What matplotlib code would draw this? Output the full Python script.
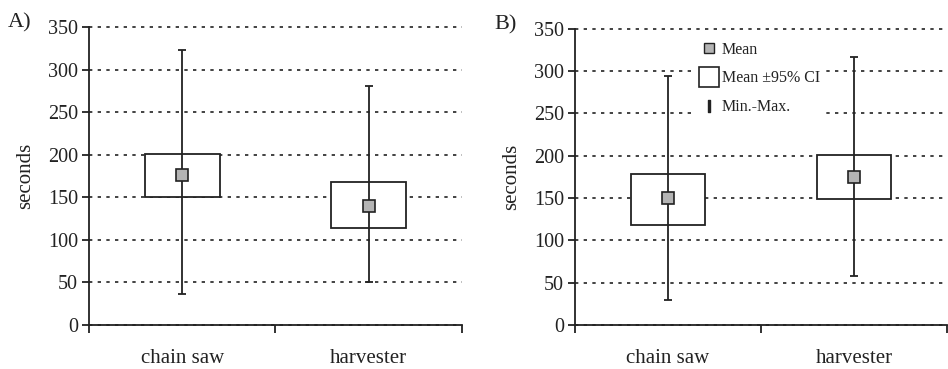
import matplotlib
matplotlib.use("Agg")
import matplotlib.pyplot as plt
from matplotlib.lines import Line2D
import numpy as np

plt.rcParams['font.family'] = ['Liberation Serif', 'DejaVu Serif']

categories = ["chain saw", "harvester"]

# panel A
a_mean = [176, 140]
a_ci_low = [150, 114]
a_ci_high = [201, 168]
a_min = [37, 51]
a_max = [323, 281]

# panel B
b_mean = [150, 175]
b_ci_low = [118, 149]
b_ci_high = [179, 201]
b_min = [30, 58]
b_max = [294, 317]

yticks = [0, 50, 100, 150, 200, 250, 300, 350]


def draw_panel(ax, mean, lo, hi, mn, mx):
    x = np.arange(len(categories))
    ax.bar(x, np.array(hi) - np.array(lo), bottom=lo, width=0.4,
           color="white", edgecolor="#222222", linewidth=1.3, zorder=2)
    ax.errorbar(x, mean, yerr=[np.array(mean) - np.array(mn), np.array(mx) - np.array(mean)],
                fmt="none", ecolor="#222222", elinewidth=1.3, capsize=3,
                capthick=1.3, zorder=3)
    ax.plot(x, mean, "s", markersize=8, markerfacecolor="#b4b4b4",
            markeredgecolor="#222222", markeredgewidth=1.2, linestyle="none", zorder=4)

    ax.set_xlim(-0.5, 1.5)
    ax.set_ylim(0, 350)
    ax.set_yticks(yticks)
    ax.yaxis.grid(True, linestyle=(0, (2, 3.2)), color="#222222", linewidth=1.2, zorder=0)
    for gl in ax.get_ygridlines():
        gl.set_clip_on(False)
    ax.set_axisbelow(True)

    # category labels between the tick marks
    ax.set_xticks([-0.5, 0.5, 1.5])
    ax.set_xticklabels([])
    ax.set_xticks(x, minor=True)
    ax.set_xticklabels(categories, minor=True)
    ax.tick_params(axis="x", which="major", direction="out", length=6, width=1.3, color="#222222")
    ax.tick_params(axis="x", which="minor", length=0, pad=17, labelsize=15, labelcolor="#222222")
    ax.tick_params(axis="y", direction="out", length=5, width=1.3, color="#222222",
                   labelsize=14.5, labelcolor="#222222", pad=3)

    for s in ["top", "right"]:
        ax.spines[s].set_visible(False)
    for s in ["left", "bottom"]:
        ax.spines[s].set_linewidth(1.3)
        ax.spines[s].set_color("#222222")
    ax.set_ylabel("seconds", fontsize=15, color="#222222", labelpad=9)


fig = plt.figure(figsize=(9.48, 3.69), dpi=100)
ax1 = fig.add_axes([0.094, 0.119, 0.393, 0.808])
ax2 = fig.add_axes([0.6065, 0.119, 0.3925, 0.803])

draw_panel(ax1, a_mean, a_ci_low, a_ci_high, a_min, a_max)
draw_panel(ax2, b_mean, b_ci_low, b_ci_high, b_min, b_max)

fig.text(0.008, 0.925, "A)", fontsize=16, color="#222222")
fig.text(0.522, 0.92, "B)", fontsize=16, color="#222222")

handles = [
    Line2D([], [], marker="s", markersize=7, markerfacecolor="#b4b4b4",
           markeredgecolor="#222222", linestyle="none"),
    Line2D([], [], marker="s", markersize=15, markerfacecolor="white",
           markeredgecolor="#222222", markeredgewidth=1.2, linestyle="none"),
    Line2D([], [], marker=r"$\mathrm{I}$", markersize=8, color="#222222", linestyle="none"),
]
leg = ax2.legend(handles, ["Mean", "Mean \u00b195% CI", "Min.-Max."],
                 loc="upper left", bbox_to_anchor=(0.30, 1.0), frameon=True,
                 fancybox=False, framealpha=1, edgecolor="none", facecolor="white",
                 fontsize=11.5, labelcolor="#222222", handlelength=1.2,
                 handletextpad=0.2, labelspacing=0.8, borderpad=0.3)
leg.set_zorder(5)

fig.savefig("out.png", dpi=100)
